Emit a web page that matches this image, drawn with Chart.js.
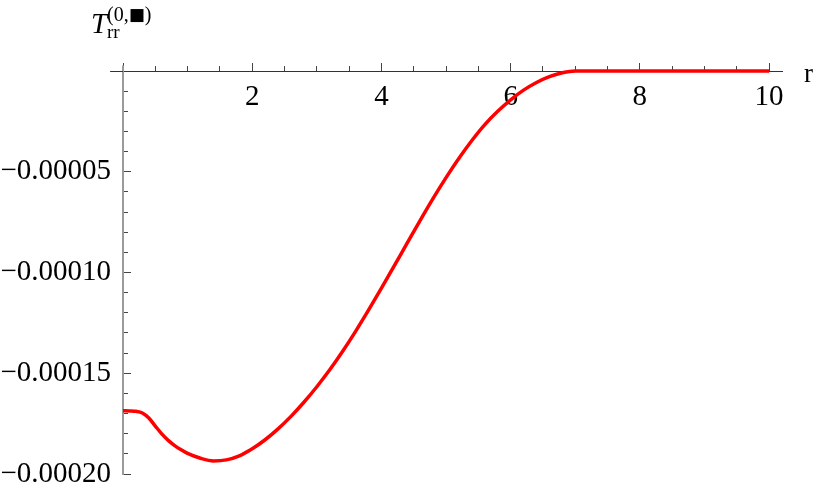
<!DOCTYPE html>
<html>
<head>
<meta charset="utf-8">
<script src="https://cdn.jsdelivr.net/npm/chart.js@4/dist/chart.umd.min.js"></script>
<style>
  html, body { margin: 0; padding: 0; background: #fff; }
  #wrap { width: 817px; height: 491px; position: relative; }
</style>
</head>
<body>
<div id="wrap"><canvas id="c" width="817" height="491"></canvas></div>
<script>
// Radius values r
const rValues = [0, 0.1, 0.2, 0.3, 0.4, 0.5, 0.6, 0.7, 0.8, 0.9, 1.0, 1.2, 1.4, 1.6, 1.8,
  2.0, 2.2, 2.4, 2.6, 2.8, 3.0, 3.2, 3.4, 3.6, 3.8, 4.0, 4.2, 4.4, 4.6, 4.8,
  5.0, 5.2, 5.4, 5.6, 5.8, 6.0, 6.2, 6.4, 6.6, 6.8, 7.0, 7.5, 8.0, 8.5, 9.0, 9.5, 10.0];
// T_rr values
const tValues = [-1.686e-4, -1.687e-4, -1.689e-4, -1.697e-4, -1.722e-4, -1.762e-4, -1.801e-4,
  -1.833e-4, -1.859e-4, -1.880e-4, -1.898e-4, -1.922e-4, -1.935e-4, -1.930e-4, -1.910e-4,
  -1.875e-4, -1.830e-4, -1.776e-4, -1.714e-4, -1.644e-4, -1.567e-4, -1.483e-4, -1.391e-4,
  -1.292e-4, -1.187e-4, -1.078e-4, -0.966e-4, -0.853e-4, -0.741e-4, -0.632e-4,
  -0.529e-4, -0.433e-4, -0.345e-4, -0.266e-4, -0.200e-4, -0.143e-4, -0.095e-4, -0.057e-4,
  -0.028e-4, -0.009e-4, 0, 0, 0, 0, 0, 0, 0];
// Axis settings
const xMin = 0, xMax = 10.2, xMajorStep = 2, xMinorStep = 0.5;
const yMin = -0.0002, yMax = 0, yMajorStep = 0.00005, yMinorStep = 0.00001;
const xAxisLeftExtent = -0.2;
const yAxisTopExtent = 0.0000027;
const xAxisTitle = 'r';

const serif = '"Liberation Serif", "Times New Roman", serif';

const fixSize = (horizontal, size) => (s) => {
  if (horizontal) s.height = size; else s.width = size;
  s.paddingLeft = 0; s.paddingRight = 0; s.paddingTop = 0; s.paddingBottom = 0;
};

const decor = {
  id: 'decor',
  afterDraw(chart) {
    const ctx = chart.ctx;
    const xs = chart.scales.x, ys = chart.scales.y;
    const x0 = xs.getPixelForValue(0), y0 = Math.round(ys.getPixelForValue(0)) + 0.5;
    ctx.save();
    // axis extensions beyond the origin
    ctx.strokeStyle = '#333';
    ctx.lineWidth = 1;
    ctx.beginPath();
    ctx.moveTo(xs.getPixelForValue(xAxisLeftExtent), y0);
    ctx.lineTo(x0, y0);
    ctx.stroke();
    ctx.strokeStyle = '#9a9a9a';
    ctx.lineWidth = 2;
    ctx.beginPath();
    ctx.moveTo(Math.round(x0), ys.getPixelForValue(yAxisTopExtent));
    ctx.lineTo(Math.round(x0), ys.getPixelForValue(0));
    ctx.stroke();
    // axis titles
    ctx.fillStyle = '#000';
    ctx.textBaseline = 'alphabetic';
    ctx.textAlign = 'left';
    ctx.font = '27px ' + serif;
    ctx.fillText(xAxisTitle, xs.right + 22, y0 + 10);
    // T_rr^(0,■)
    ctx.font = 'italic 29px ' + serif;
    ctx.fillText('T', 91, 33);
    ctx.font = '19px ' + serif;
    ctx.fillText('rr', 107, 38);
    ctx.font = '20px ' + serif;
    ctx.fillText('(0,', 107, 21);
    const w = ctx.measureText('(0,').width;
    ctx.font = '17px "DejaVu Sans", sans-serif';
    ctx.fillText('\u25A0', 107 + w, 20);
    const w2 = ctx.measureText('\u25A0').width;
    ctx.font = '20px ' + serif;
    ctx.fillText(')', 107 + w + w2, 21);
    ctx.restore();
  }
};

new Chart(document.getElementById('c'), {
  type: 'line',
  data: {
    datasets: [{
      data: rValues.map((r, i) => ({ x: r, y: tValues[i] })),
      borderColor: 'rgb(255,0,0)',
      borderWidth: 3.5,
      pointRadius: 0,
      cubicInterpolationMode: 'monotone',
      fill: false,
      clip: false
    }]
  },
  options: {
    responsive: false,
    animation: false,
    events: [],
    layout: { padding: { left: 0, top: 71, right: 35, bottom: 17 } },
    plugins: { legend: { display: false }, tooltip: { enabled: false } },
    scales: {
      x: {
        type: 'linear', position: 'top', min: xMin, max: xMax,
        afterFit: fixSize(true, 0),
        border: { display: true, color: '#333', width: 1 },
        grid: { display: true, drawOnChartArea: false, drawTicks: true, tickLength: 8, tickColor: '#444', tickWidth: 1 },
        ticks: {
          stepSize: xMajorStep, includeBounds: false, mirror: true, padding: 9,
          autoSkip: false, maxRotation: 0,
          color: '#000', font: { family: serif, size: 29 },
          callback: (v) => (v === 0 ? '' : String(v))
        }
      },
      x2: {
        type: 'linear', axis: 'x', position: 'top', min: xMin, max: xMax,
        afterFit: fixSize(true, 0),
        border: { display: false },
        grid: { display: true, drawOnChartArea: false, drawTicks: true, tickLength: 5, tickColor: '#444', tickWidth: 1 },
        ticks: { stepSize: xMinorStep, includeBounds: false, display: false, autoSkip: false }
      },
      y: {
        type: 'linear', position: 'left', min: yMin, max: yMax, weight: 1,
        afterFit: fixSize(false, 123),
        border: { display: true, color: '#9a9a9a', width: 2 },
        grid: { display: true, drawOnChartArea: false, drawTicks: true, tickLength: -8, tickColor: '#444', tickWidth: 1 },
        ticks: {
          stepSize: yMajorStep, includeBounds: false, padding: 20, autoSkip: false,
          color: '#000', font: { family: serif, size: 29 },
          callback: (v) => (Math.abs(v) < 1e-12 ? '' : '\u2212' + Math.abs(v).toFixed(5))
        }
      },
      y2: {
        type: 'linear', axis: 'y', position: 'left', min: yMin, max: yMax, weight: 0,
        afterFit: fixSize(false, 0),
        border: { display: false },
        grid: { display: true, drawOnChartArea: false, drawTicks: true, tickLength: -5, tickColor: '#444', tickWidth: 1 },
        ticks: { stepSize: yMinorStep, includeBounds: false, display: false, autoSkip: false }
      }
    }
  },
  plugins: [decor]
});
</script>
</body>
</html>
